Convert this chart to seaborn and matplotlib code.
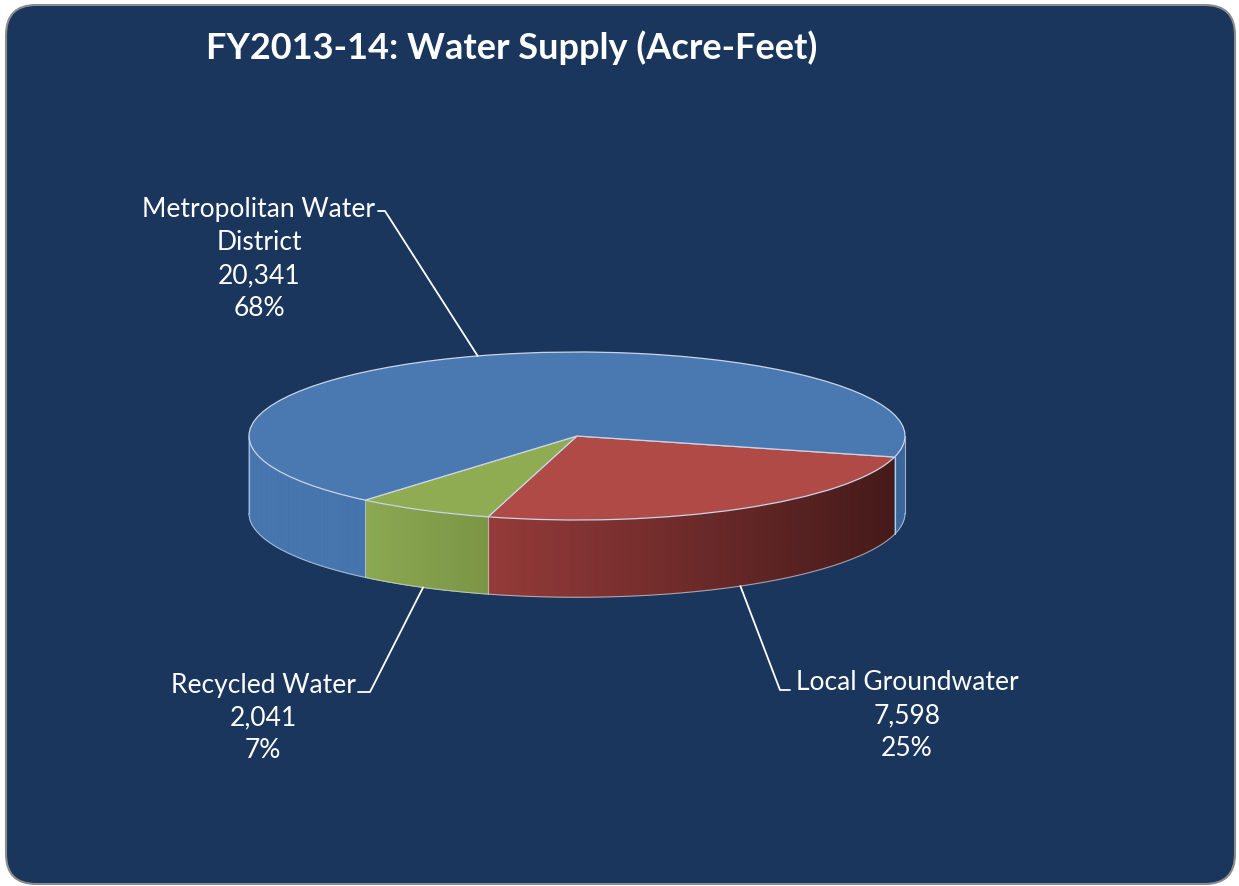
import matplotlib

matplotlib.use("Agg")
import matplotlib.pyplot as plt
import numpy as np
import seaborn as sns
from matplotlib.collections import PolyCollection
from matplotlib.colors import to_rgb
from matplotlib.patches import FancyBboxPatch

TITLE = "FY2013-14: Water Supply (Acre-Feet)"
SOURCES = ["Local Groundwater", "Recycled Water", "Metropolitan Water\nDistrict"]
ACRE_FEET = [7598, 2041, 20341]
PERCENT_LABELS = ["25%", "7%", "68%"]

TOP_COLORS = ["#b04a47", "#8fac53", "#4a79b2"]
WALL_LEFT = ["#953b39", "#8ba852", "#4877b0"]
WALL_RIGHT = ["#461a1a", "#7b9545", "#3d679a"]
BG = "#1a365d"
EDGE = "#c9d5e6"

W, H, DPI = 1239, 886, 100
CX, CY = 577, 436      # pie centre, pixels
RX, RY = 328, 84       # ellipse semi-axes, pixels
DEPTH = 0.92           # wall height in units of RY
START = -14.5

# label layout in pixels: (leader elbow, leader end, text centre)
LABEL_LAYOUT = [
    ((780, 690), (790, 690), (907, 716)),
    ((370, 692), (358, 692), (263, 718)),
    ((385, 211), (378, 211), (259, 259)),
]


def px(x, y):
    return (x - CX) / RX, (CY - y) / RY


def mix(c0, c1, f):
    a, b = np.array(to_rgb(c0)), np.array(to_rgb(c1))
    return tuple(a + (b - a) * f)


sns.set_theme(style="white")
plt.rcParams["font.family"] = ["Lato", "DejaVu Sans"]

fig = plt.figure(figsize=(W / DPI, H / DPI), dpi=DPI)
fig.patch.set_facecolor("white")
ax = fig.add_axes([0, 0, 1, 1])

bg = FancyBboxPatch(
    (0.06, 0.02), 12.29, 8.79,
    boxstyle="round,pad=0,rounding_size=0.3",
    transform=fig.dpi_scale_trans,
    facecolor=BG, edgecolor="#8c8c8c", linewidth=1.5,
    zorder=0, clip_on=False,
)
ax.add_patch(bg)

values = np.array(ACRE_FEET, dtype=float)
fracs = values / values.sum()
edges = START - 360 * np.concatenate([[0], np.cumsum(fracs)])

# side walls of the disc (front half only), shaded left to right per slice
polys, cols = [], []
for i in range(len(values)):
    ts = np.radians(np.linspace(edges[i + 1], edges[i], 240))
    strips = [(t0, t1) for t0, t1 in zip(ts[:-1], ts[1:]) if np.sin((t0 + t1) / 2) < 0]
    if not strips:
        continue
    xs = [np.cos((t0 + t1) / 2) for t0, t1 in strips]
    lo, hi = min(xs), max(xs)
    span = max(hi - lo, 1e-6)
    for (t0, t1), xm in zip(strips, xs):
        x0, x1 = np.cos(t0), np.cos(t1)
        y0, y1 = np.sin(t0), np.sin(t1)
        polys.append([(x0, y0), (x1, y1), (x1, y1 - DEPTH), (x0, y0 - DEPTH)])
        cols.append(mix(WALL_LEFT[i], WALL_RIGHT[i], (xm - lo) / span))
ax.add_collection(PolyCollection(polys, facecolors=cols, edgecolors=cols,
                                 linewidths=0.6, zorder=2))

# wall outlines
tb = np.radians(np.linspace(180, 360, 200))
ax.plot(np.cos(tb), np.sin(tb) - DEPTH, color=EDGE, lw=0.8, alpha=0.7, zorder=3)
for t in list(np.radians(edges)) + [np.pi, 2 * np.pi]:
    if np.sin(t) <= 1e-9:
        ax.plot([np.cos(t)] * 2, [np.sin(t), np.sin(t) - DEPTH],
                color=EDGE, lw=0.8, alpha=0.7, zorder=3)

# top face
ax.pie(values, colors=TOP_COLORS, startangle=START, counterclock=False,
       radius=1, center=(0, 0),
       wedgeprops=dict(edgecolor=EDGE, linewidth=0.9, zorder=4))

# labels with leader lines
for i, (elbow, end, tc) in enumerate(LABEL_LAYOUT):
    m = np.radians((edges[i] + edges[i + 1]) / 2)
    ax0, ay0 = np.cos(m), np.sin(m)
    if ay0 < 0:
        ay0 -= DEPTH
    ex, ey = px(*elbow)
    nx, ny = px(*end)
    ax.plot([ax0, ex, nx], [ay0, ey, ny], color="white", lw=1.3, zorder=5)
    tx, ty = px(*tc)
    ax.text(tx, ty, f"{SOURCES[i]}\n{ACRE_FEET[i]:,}\n{PERCENT_LABELS[i]}",
            ha="center", va="center", multialignment="center",
            color="white", fontsize=19, linespacing=1.4, zorder=6)

ax.text(*px(512, 48), TITLE, ha="center", va="center", color="white",
        fontsize=26, fontweight="bold", zorder=6)

ax.set_aspect("auto")
ax.set_xlim((0 - CX) / RX, (W - CX) / RX)
ax.set_ylim((CY - H) / RY, CY / RY)
ax.axis("off")

fig.savefig("out.png", dpi=DPI, facecolor="white")
